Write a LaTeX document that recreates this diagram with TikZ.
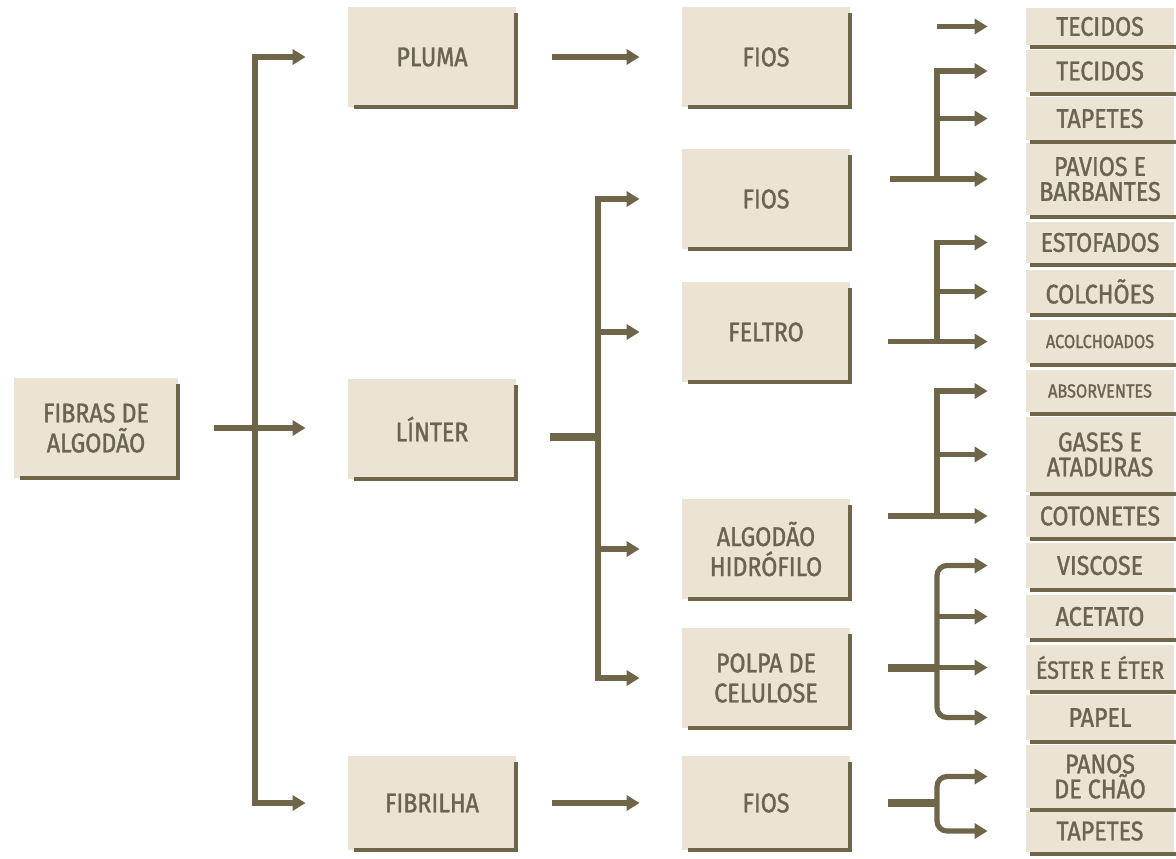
\documentclass[tikz,border=0pt]{standalone}
\usepackage{fontspec}
\setmainfont{Fira Sans}[FakeStretch=0.86,FakeBold=1.3]
\usetikzlibrary{arrows.meta,calc}
\definecolor{ink}{HTML}{6F6549}
\definecolor{boxfill}{HTML}{EBE3D3}
\definecolor{txt}{HTML}{6A6455}

\begin{document}
\begin{tikzpicture}[x=0.5pt,y=-0.5pt,>={Triangle[length=6.5pt,width=7.5pt]},
  box/.style={fill=boxfill,inner sep=0pt,align=center,text=txt,
    font=\fontsize{13.5}{15}\selectfont,minimum width=84pt,minimum height=50pt},
  endbox/.style={box,minimum width=74pt,font=\fontsize{13.5}{12.5}\selectfont},
  shadowline/.style={draw=ink,line width=2pt},
  link/.style={draw=ink,line width=2.6pt,line join=miter},
  fat/.style={draw=ink,line width=4pt},
  arr/.style={link,->,shorten >=21pt},
  tip/.style={link,->,shorten >=19pt}]
\useasboundingbox (0,0) rectangle (1176,858);

\node[box,minimum width=82pt] (fibras) at (96,428) {FIBRAS DE\\ALGODÃO};
\node[box] (pluma) at (432,57) {PLUMA};
\node[box] (linter) at (432,429) {LÍNTER};
\node[box,minimum height=47pt] (fibrilha) at (432,803) {FIBRILHA};
\node[box] (fios1) at (766,57) {FIOS};
\node[box] (fios2) at (766,199) {FIOS};
\node[box] (feltro) at (766,332) {FELTRO};
\node[box] (hidro) at (766,549) {ALGODÃO\\HIDRÓFILO};
\node[box] (polpa) at (766,678) {POLPA DE\\CELULOSE};
\node[box,minimum height=47pt] (fios3) at (766,803) {FIOS};

\foreach \n/\y/\h/\t in {r1/26.5/37/TECIDOS,r2/71/42/TECIDOS,r3/118.5/43/TAPETES,
    r4/179/72/PAVIOS E\\BARBANTES,r5/242.5/41/ESTOFADOS,r6/291.5/43/COLCHÕES,
    r7/341.5/43/{\fontsize{9.5}{11}\selectfont ACOLCHOADOS},
    r8/391/42/{\fontsize{9.5}{11}\selectfont ABSORVENTES},
    r9/454.5/75/GASES E\\ATADURAS,r10/516/42/COTONETES,r11/565.5/45/VISCOSE,
    r12/616.5/43/ACETATO,r13/667.5/45/{\fontsize{12.5}{12.5}\selectfont ÉSTER E ÉTER},
    r14/717.5/45/PAPEL,r15/776.5/63/PANOS\\DE CHÃO,r16/831/42/TAPETES}
  \node[endbox,minimum height=\h*0.5pt] (\n) at (1100,\y) {\t};

\foreach \n in {fibras,pluma,linter,fibrilha,fios1,fios2,feltro,hidro,polpa,fios3}
  \draw[shadowline,shift={(1pt,-1pt)}] ([yshift=-3pt]\n.north east) -- (\n.south east) -- ([xshift=3pt]\n.south west);
\foreach \n in {r1,r2,r3,r4,r5,r6,r7,r8,r9,r10,r11,r12,r13,r14,r15,r16}
  \draw[shadowline] ([xshift=2pt,yshift=-1pt]\n.south west) -- ([xshift=2pt,yshift=-1pt]\n.south east);

\coordinate (t) at (255,0);
\draw[arr] (linter.west -| t) -- (pluma.west -| t) -- (pluma.west);
\draw[arr] (linter.west -| t) -- (fibrilha.west -| t) -- (fibrilha.west);
\draw[arr,shorten <=18pt] (fibras.east) -- (fibras.east -| linter.west);
\draw[arr,shorten <=18pt] (pluma.east) -- (fios1.west);
\draw[arr,shorten <=18pt] (fibrilha.east) -- (fios3.west);

\coordinate (l) at (598,437);
\draw[fat,shorten <=17pt] (linter.east |- l) -- (l);
\draw[arr] (l) -- (fios2.west -| l) -- (fios2.west);
\draw[arr] (l) -- (polpa.west -| l) -- (polpa.west);
\foreach \n in {feltro,hidro}
  \draw[arr] (\n.west -| l) -- (\n.west);

\coordinate (s) at (937,0);
\draw[tip] (r1.west -| s) -- (r1.west);
\draw[tip] (r4.west -| s) -- (r2.west -| s) -- (r2.west);
\draw[tip] (r3.west -| s) -- (r3.west);
\draw[tip,shorten <=20pt] (fios2.east |- r4.west) -- (r4.west);

\draw[tip] (r7.west -| s) -- (r5.west -| s) -- (r5.west);
\draw[tip] (r6.west -| s) -- (r6.west);
\draw[tip,shorten <=19pt] (feltro.east |- r7.west) -- (r7.west);

\draw[tip] (r10.west -| s) -- (r8.west -| s) -- (r8.west);
\draw[tip] (r9.west -| s) -- (r9.west);
\draw[tip,shorten <=19pt] (hidro.east |- r10.west) -- (r10.west);

\draw[tip,rounded corners=5pt] (r13.west -| s) -- (r11.west -| s) -- (r11.west);
\draw[tip,rounded corners=5pt] (r13.west -| s) -- (r14.west -| s) -- (r14.west);
\foreach \n in {r12,r13}
  \draw[tip] (\n.west -| s) -- (\n.west);
\draw[fat,shorten <=19pt] (polpa.east |- r13.west) -- (r13.west -| s);

\draw[tip,rounded corners=5pt] (fios3.east -| s) -- (r15.west -| s) -- (r15.west);
\draw[tip,rounded corners=5pt] (fios3.east -| s) -- (r16.west -| s) -- (r16.west);
\draw[fat,shorten <=19pt] (fios3.east) -- (fios3.east -| s);
\end{tikzpicture}
\end{document}
